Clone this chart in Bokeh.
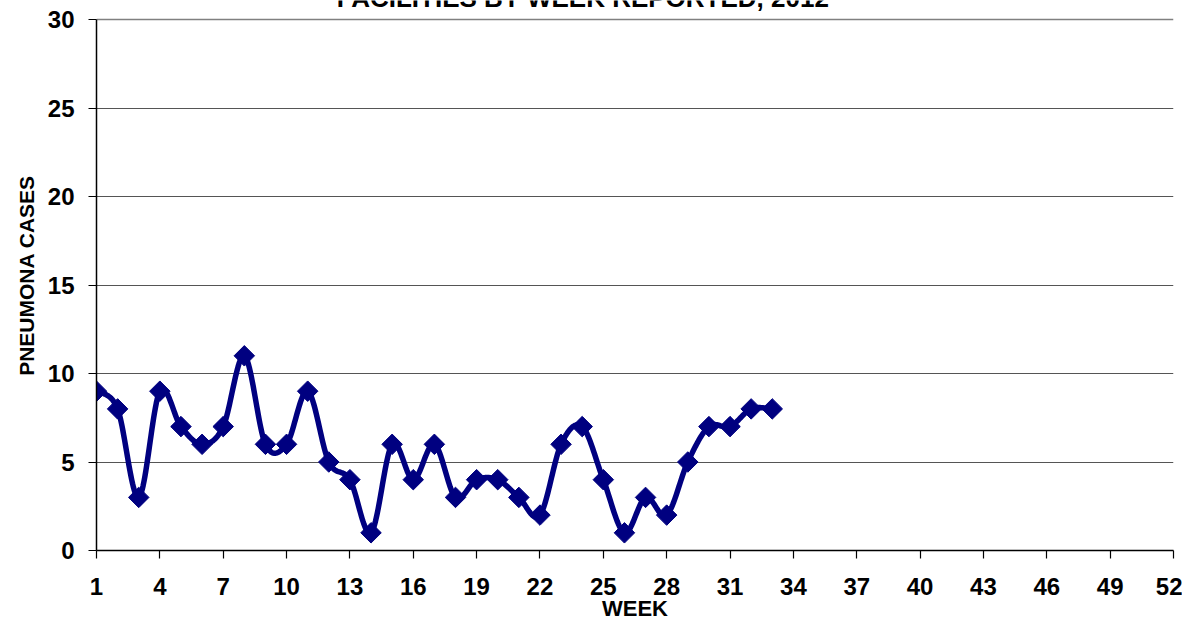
import numpy as np
from bokeh.plotting import figure
from bokeh.models import Label, FixedTicker, Range1d, Grid, LinearAxis
from bokeh.embed import file_html
from bokeh.resources import INLINE

# ---- data ----
weeks = list(range(1, 34))
cases = [9, 8, 3, 9, 7, 6, 7, 11, 6, 6, 9, 5, 4, 1, 6, 4, 6, 3, 4, 4, 3, 2,
         6, 7, 4, 1, 3, 2, 5, 7, 7, 8, 8]
x_ticks = list(range(1, 53, 3))
y_ticks = [0, 5, 10, 15, 20, 25]
y_max = 30
x_max = 52
title_text = "FACILITIES BY WEEK REPORTED, 2012"
x_title = "WEEK"
y_title = "PNEUMONA CASES"

NAVY = "#000080"
FONT = "Liberation Sans"


def smooth(xs, ys, n=24):
    """Bezier smoothing through the data points (like a spreadsheet's smoothed line)."""
    xs = np.asarray(xs, float)
    ys = np.asarray(ys, float)
    px = np.concatenate([[xs[0]], xs, [xs[-1]]])
    py = np.concatenate([[ys[0]], ys, [ys[-1]]])
    ox, oy = [], []
    t = np.linspace(0, 1, n, endpoint=False)
    for i in range(1, len(px) - 2):
        p0x, p1x, p2x, p3x = px[i - 1], px[i], px[i + 1], px[i + 2]
        p0y, p1y, p2y, p3y = py[i - 1], py[i], py[i + 1], py[i + 2]
        c1x = p1x + (p2x - p0x) / 6.0
        c1y = p1y + (p2y - p0y) / 6.0
        c2x = p2x - (p3x - p1x) / 6.0
        c2y = p2y - (p3y - p1y) / 6.0
        b0 = (1 - t) ** 3
        b1 = 3 * (1 - t) ** 2 * t
        b2 = 3 * (1 - t) * t ** 2
        b3 = t ** 3
        ox.extend(b0 * p1x + b1 * c1x + b2 * c2x + b3 * p2x)
        oy.extend(b0 * p1y + b1 * c1y + b2 * c2y + b3 * p2y)
    ox.append(xs[-1])
    oy.append(ys[-1])
    return ox, oy


W, H = 1182, 627
FRAME_BOTTOM = 550          # canvas px of value 0
PLOT_TOP = 19               # canvas px of value 30
# the frame reaches the canvas top so that the (cut) title can be drawn there
y_top = y_max * FRAME_BOTTOM / (FRAME_BOTTOM - PLOT_TOP)

p = figure(width=W, height=H,
           x_range=Range1d(1, x_max), y_range=Range1d(0, y_top),
           output_backend="svg", toolbar_location=None,
           min_border_left=96, min_border_right=9,
           min_border_top=0, min_border_bottom=H - FRAME_BOTTOM)

p.background_fill_color = "white"
p.border_fill_color = "white"
p.outline_line_color = None

# grid
p.xgrid.visible = False
p.ygrid.ticker = FixedTicker(ticks=y_ticks)
p.ygrid.grid_line_color = "#555555"
p.ygrid.grid_line_width = 1.2
# plot-area border (top and right)
p.add_layout(Grid(dimension=1, ticker=FixedTicker(ticks=[y_max]),
                  grid_line_color="#808080", grid_line_width=1.5))
p.add_layout(Grid(dimension=0, ticker=FixedTicker(ticks=[x_max]), bounds=(0, y_max),
                  grid_line_color="#808080", grid_line_width=1.5))

# axes
for ax in (p.xaxis, p.yaxis):
    ax.axis_line_color = "black"
    ax.axis_line_width = 1.5
    ax.major_tick_line_color = "black"
    ax.major_tick_line_width = 1.2
    ax.major_tick_in = 0
    ax.major_tick_out = 8
    ax.minor_tick_line_color = None
    ax.major_label_text_font = FONT
    ax.major_label_text_font_style = "bold"
    ax.major_label_text_font_size = "24px"
    ax.major_label_text_color = "black"

p.xaxis.ticker = FixedTicker(ticks=x_ticks)
p.xaxis.major_label_standoff = 19
p.xaxis.axis_label = x_title
p.xaxis.axis_label_text_font = FONT
p.xaxis.axis_label_text_font_style = "bold"
p.xaxis.axis_label_text_font_size = "22px"
p.xaxis.axis_label_text_color = "black"
p.xaxis.axis_label_standoff = -2

p.yaxis.ticker = FixedTicker(ticks=y_ticks + [y_max])
p.yaxis.bounds = (0, y_max)
p.yaxis.major_label_standoff = 14

# label-only axis for the y title
ytitle_axis = LinearAxis(ticker=FixedTicker(ticks=[]), bounds=(0, y_max),
                         axis_line_color=None, major_tick_line_color=None,
                         minor_tick_line_color=None, major_tick_out=0, major_tick_in=0,
                         major_label_standoff=0,
                         axis_label=y_title, axis_label_standoff=7,
                         axis_label_text_font=FONT, axis_label_text_font_style="bold",
                         axis_label_text_font_size="21px", axis_label_text_color="black")
p.add_layout(ytitle_axis, "left")

# smoothed line + markers
sx, sy = smooth(weeks, cases)
p.line(sx, sy, line_color=NAVY, line_width=5.5, line_join="round")
p.scatter(weeks, cases, marker="square", angle=np.pi / 4, size=14.5,
          fill_color=NAVY, line_color=NAVY)

# chart title (its upper part is cut by the top edge, as in the original)
p.add_layout(Label(x=24.04, y=y_max, y_offset=22, text=title_text,
                   text_font=FONT, text_font_style="bold", text_font_size="26px",
                   text_align="center", text_baseline="alphabetic",
                   text_color="black"))

open("out.html", "w").write(file_html(p, INLINE))
